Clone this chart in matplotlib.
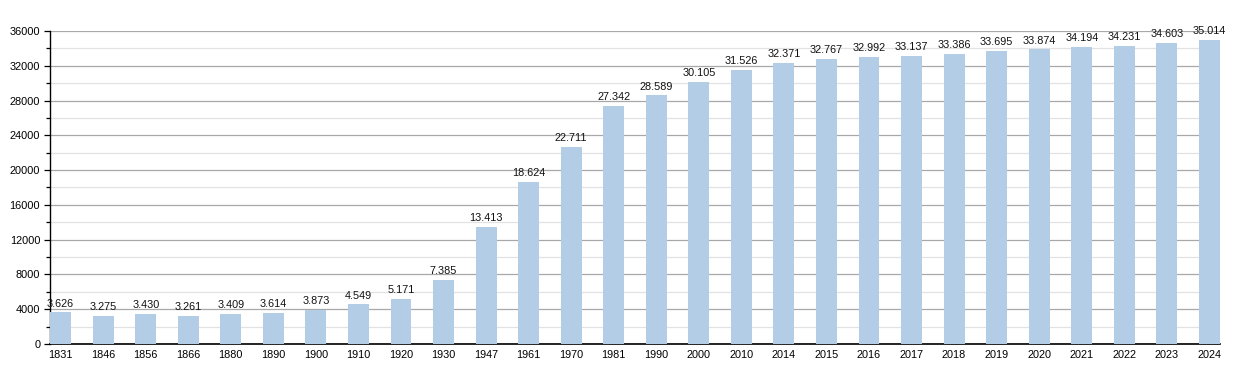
import matplotlib
matplotlib.use("Agg")
import matplotlib.pyplot as plt
from matplotlib.ticker import MultipleLocator

years = ["1831", "1846", "1856", "1866", "1880", "1890", "1900", "1910", "1920", "1930",
         "1947", "1961", "1970", "1981", "1990", "2000", "2010", "2014", "2015", "2016",
         "2017", "2018", "2019", "2020", "2021", "2022", "2023", "2024"]
population = [3626, 3275, 3430, 3261, 3409, 3614, 3873, 4549, 5171, 7385,
              13413, 18624, 22711, 27342, 28589, 30105, 31526, 32371, 32767, 32992,
              33137, 33386, 33695, 33874, 34194, 34231, 34603, 35014]

plt.rcParams['font.family'] = ['Liberation Sans', 'DejaVu Sans']

fig = plt.figure(figsize=(12.5, 3.73), dpi=100)
ax = fig.add_axes([50/1250, 29/373, 1170/1250, 313/373])

x = list(range(len(years)))
ax.bar(x, population, width=0.49, color="#b3cde6", zorder=3)

for xi, v in zip(x, population):
    s = f"{v:,}".replace(",", ".")
    ax.text(xi, v + 450, s, ha="center", va="bottom", fontsize=7.8, color="#111111", zorder=4)

ax.set_xlim(-0.25, len(years) - 0.75)
ax.set_ylim(0, 36000)
ax.yaxis.set_major_locator(MultipleLocator(4000))
ax.yaxis.set_minor_locator(MultipleLocator(2000))
ax.grid(axis="y", which="major", color="#a8a8a8", linewidth=0.9, zorder=0)
ax.grid(axis="y", which="minor", color="#e2e2e2", linewidth=0.9, zorder=0)
ax.set_xticks(x)
ax.set_xticklabels(years)
ax.tick_params(axis="x", length=0, pad=4, labelsize=7.8)
ax.tick_params(axis="y", which="major", length=4, width=0.9, labelsize=7.9, pad=3)
ax.tick_params(axis="y", which="minor", length=3, width=0.9)
for sp in ["top", "right"]:
    ax.spines[sp].set_visible(False)
ax.spines["left"].set_linewidth(1.0)
ax.spines["bottom"].set_linewidth(1.2)

fig.savefig("out.png", dpi=100)
